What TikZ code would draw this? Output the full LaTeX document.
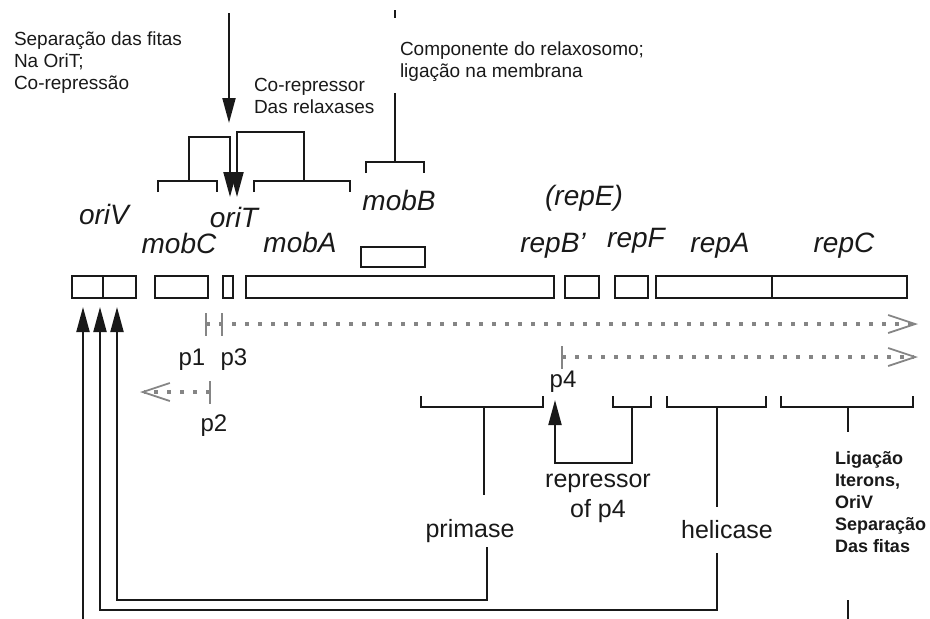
\documentclass[tikz,border=0pt]{standalone}
\usepackage{fontspec}
\setmainfont{Liberation Sans}
\usetikzlibrary{arrows.meta}

\begin{document}
\begin{tikzpicture}[x=1pt,y=-1pt,line width=2pt,color=black!90,
  genebox/.style={draw, line width=2.2pt, inner sep=0, minimum height=22pt},
  genename/.style={font=\fontsize{28}{30}\selectfont\itshape, anchor=base, inner sep=0},
  note/.style={font=\fontsize{19}{22}\selectfont, align=left, anchor=base west, inner sep=0},
  role/.style={font=\fontsize{25}{30}\selectfont, align=center, anchor=base, inner sep=0},
  pname/.style={font=\fontsize{24}{26}\selectfont, anchor=base, inner sep=0},
  pointer/.style={-{Triangle[length=25pt,width=13pt]}},
  transcript/.style={black!48, line width=4pt, dash pattern=on 4pt off 9pt, -{Straight Barb[length=27pt,width=18pt,line width=1.8pt]}},
  ptick/.style={black!48, line width=2pt}]
\useasboundingbox (0,0) rectangle (930,619);

\node[genebox, minimum width=31pt] (oriVl) at (87.5,287) {};
\node[genebox, minimum width=33pt] (oriVr) at (119.5,287) {};
\node[genebox, minimum width=53pt] (mobCbox) at (181.5,287) {};
\node[genebox, minimum width=10pt] (oriTbox) at (228,287) {};
\node[genebox, minimum width=308pt] (mobAbox) at (400,287) {};
\node[genebox, minimum width=64pt, minimum height=20pt] (mobBbox) at (393,257) {};
\node[genebox, minimum width=34pt] (repBbox) at (582,287) {};
\node[genebox, minimum width=33pt] (repFbox) at (631.5,287) {};
\node[genebox, minimum width=116pt] (repAbox) at (714,287) {};
\node[genebox, minimum width=135pt] (repCbox) at (839.5,287) {};

\node[genename] (oriV) at (104,224) {oriV};
\node[genename] (mobC) at (179,253) {mobC};
\node[genename] (oriT) at (234,227) {oriT};
\node[genename] (mobA) at (300,252) {mobA};
\node[genename] (mobB) at (399,210) {mobB};
\node[genename] (repE) at (584,205) {(repE)};
\node[genename] (repB) at (553,252) {repB’};
\node[genename] (repF) at (636,247) {repF};
\node[genename] (repA) at (720,252) {repA};
\node[genename] (repC) at (844,252) {repC};

\node[note] (strand) at (13,89) {Separação das fitas\\Na OriT;\\Co-repressão};
\node[note] (corep) at (253,113) {Co-repressor\\Das relaxases};
\node[note] (relax) at (399,77) {Componente do relaxosomo;\\ligação na membrana};

\node[role] (primase) at (470,537) {primase};
\node[role] (helicase) at (727,538) {helicase};
\node[role] (repressor) at (598,517) {repressor\\of p4};
\node[font=\fontsize{18}{22}\selectfont\bfseries, align=left, anchor=base west, inner sep=0] (iteron) at (834,552) {Ligação\\Iterons,\\OriV\\Separação\\Das fitas};

\node[pname] (p1) at (192,365) {p1};
\node[pname] (p3) at (234,365) {p3};
\node[pname] (p2) at (214,431) {p2};
\node[pname] (p4) at (563,387) {p4};

\coordinate (p1t) at (206,324);
\coordinate (p3t) at (222,324);
\coordinate (p2t) at (210,392);
\coordinate (p4t) at (562,357);
\coordinate (end13) at (918,324);
\coordinate (end2) at (140,392);
\coordinate (end4) at (918,357);
\draw[transcript] (p1t) -- (end13);
\draw[transcript] (p4t) -- (end4);
\draw[transcript] (p2t) -- (end2);
\foreach \t in {p1t,p3t,p2t,p4t}
  \draw[ptick] (\t) ++(0,-11) -- ++(0,23);

\coordinate (relaxtop) at (229,13);
\coordinate (relaxtip) at (229,123);
\draw[pointer] (relaxtop) -- (relaxtip);

\draw (158,192) |- (217,181) -- (217,192);
\draw (254,192) |- (350,181) -- (350,192);
\draw (366,173) |- (424,162) -- (424,173);
\coordinate (mobCmid) at (189,181);
\coordinate (mobAmid) at (304,181);
\coordinate (mobBmid) at (395,162);
\draw[pointer] (mobCmid) |- (230,137) -- (230,197);
\draw[pointer] (mobAmid) |- (237,132) -- (237,197);
\draw (mobBmid) -- (395,93);
\draw (395,10) -- (395,18);

\draw (421,396) |- (543,407) -- (543,396);
\draw (613,396) |- (651,407) -- (651,396);
\draw (667,396) |- (766,407) -- (766,396);
\draw (781,396) |- (913,407) -- (913,396);
\coordinate (primmid) at (484,407);
\coordinate (repFmid) at (632,407);
\coordinate (repAmid) at (717,407);
\coordinate (repCmid) at (848,407);
\coordinate (tipL) at (83,307);
\coordinate (tipM) at (100,307);
\coordinate (tipR) at (117,307);
\coordinate (p4tip) at (555,400);

\draw (primmid) -- (484,495);
\draw[pointer] (487,547) |- (117,600) -- (tipR);
\draw (repAmid) -- (717,507);
\draw[pointer] (717,553) |- (100,610) -- (tipM);
\draw[pointer] (83,619) -- (tipL);
\draw[pointer] (repFmid) |- (555,463) -- (p4tip);
\draw (repCmid) -- (848,432);
\draw (848,600) -- (848,619);
\end{tikzpicture}
\end{document}
